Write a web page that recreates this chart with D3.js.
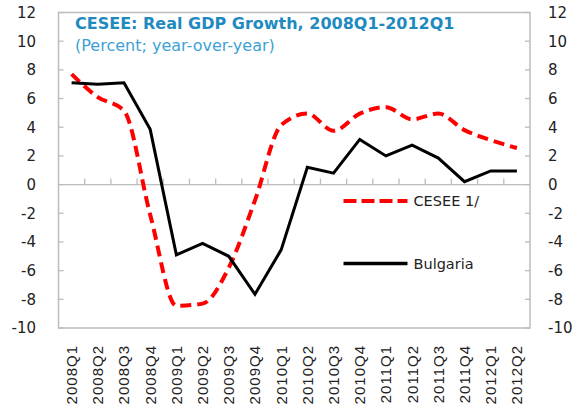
<!DOCTYPE html>
<html>
<head>
<meta charset="utf-8">
<script src="https://cdn.jsdelivr.net/npm/d3@7"></script>
<style>
  body { margin: 0; background: #fff; }
  svg { display: block; }
</style>
</head>
<body>
<div id="chart"></div>
<script>
// quarters on the x axis
var quarters = ["2008Q1", "2008Q2", "2008Q3", "2008Q4", "2009Q1", "2009Q2", "2009Q3", "2009Q4",
    "2010Q1", "2010Q2", "2010Q3", "2010Q4", "2011Q1", "2011Q2", "2011Q3", "2011Q4", "2012Q1", "2012Q2"];

// real GDP growth, percent y/y
var cesee = [7.7, 6.1, 5.15, -2.1, -8.45, -8.3, -5.8, -1.1,
    4.15, 4.95, 3.75, 4.95, 5.4, 4.55, 4.95, 3.8, 3.1, 2.55];
var bulgaria = [7.1, 7.0, 7.1, 3.85, -4.9, -4.1, -5.0, -7.65,
    -4.55, 1.2, 0.8, 3.15, 2.0, 2.75, 1.85, 0.2, 0.95, 0.95];

var yTicks = [12, 10, 8, 6, 4, 2, 0, -2, -4, -6, -8, -10];

// set the dimensions and margins of the graph
var W = 581, H = 412;
var margin = {top: 12.5, right: 51, bottom: 84, left: 58.5},
    width = W - margin.left - margin.right,
    height = H - margin.top - margin.bottom;

var x = d3.scaleBand().domain(quarters).range([0, width]).padding(0);
var y = d3.scaleLinear().domain([-10, 12]).range([height, 0]);

var svg = d3.select("#chart").append("svg")
    .attr("width", W)
    .attr("height", H);

var g = svg.append("g")
    .attr("transform", "translate(" + margin.left + "," + margin.top + ")");

var grey = "#bdbdbd";
var textCol = "#222";

// plot frame
g.append("rect")
    .attr("width", width)
    .attr("height", height)
    .attr("fill", "none")
    .attr("stroke", grey)
    .attr("stroke-width", 1.5);

// y ticks pointing inward on both sides
g.selectAll(".ytl").data(yTicks).enter().append("line")
    .attr("x1", 0).attr("x2", 5)
    .attr("y1", d => y(d)).attr("y2", d => y(d))
    .attr("stroke", grey).attr("stroke-width", 1.3);
g.selectAll(".ytr").data(yTicks).enter().append("line")
    .attr("x1", width - 5).attr("x2", width)
    .attr("y1", d => y(d)).attr("y2", d => y(d))
    .attr("stroke", grey).attr("stroke-width", 1.3);

// y labels, left and right
g.selectAll(".yl").data(yTicks).enter().append("text")
    .attr("x", -22.5)
    .attr("y", d => y(d))
    .attr("dy", "0.36em")
    .attr("text-anchor", "end")
    .attr("font-family", "DejaVu Sans, sans-serif")
    .attr("font-size", 15)
    .attr("fill", textCol)
    .text(d => d);
g.selectAll(".yr").data(yTicks).enter().append("text")
    .attr("x", width + 18)
    .attr("y", d => y(d))
    .attr("dy", "0.36em")
    .attr("text-anchor", "start")
    .attr("font-family", "DejaVu Sans, sans-serif")
    .attr("font-size", 15)
    .attr("fill", textCol)
    .text(d => d);

// zero line with category boundary ticks
g.append("line")
    .attr("x1", 0).attr("x2", width)
    .attr("y1", y(0)).attr("y2", y(0))
    .attr("stroke", grey).attr("stroke-width", 1.3);
g.selectAll(".xt").data(quarters.slice(1)).enter().append("line")
    .attr("x1", d => x(d)).attr("x2", d => x(d))
    .attr("y1", y(0)).attr("y2", y(0) - 6)
    .attr("stroke", grey).attr("stroke-width", 1.3);

// x labels, rotated
g.selectAll(".xl").data(quarters).enter().append("text")
    .attr("transform", d => "translate(" + (x(d) + x.bandwidth() / 2) + "," + (height + 17) + ") rotate(-90)")
    .attr("dy", "0.36em")
    .attr("text-anchor", "end")
    .attr("font-family", "Liberation Sans, Arial, sans-serif")
    .attr("font-size", 15)
    .attr("letter-spacing", 1)
    .attr("fill", textCol)
    .text(d => d);

var cx = d => x(d) + x.bandwidth() / 2;

// CESEE smoothed dashed line
var lineC = d3.line()
    .x((d, i) => cx(quarters[i]))
    .y(d => y(d))
    .curve(d3.curveMonotoneX);
g.append("path")
    .datum(cesee)
    .attr("d", lineC)
    .attr("fill", "none")
    .attr("stroke", "#ff0000")
    .attr("stroke-width", 4)
    .attr("stroke-dasharray", "11,6");

// Bulgaria solid line
var lineB = d3.line()
    .x((d, i) => cx(quarters[i]))
    .y(d => y(d));
g.append("path")
    .datum(bulgaria)
    .attr("d", lineB)
    .attr("fill", "none")
    .attr("stroke", "#000")
    .attr("stroke-width", 3)
    .attr("stroke-linejoin", "miter");

// legend
var legend = [
    {name: "CESEE 1/", color: "#ff0000", dash: "13,5", w: 4, yv: -1.15},
    {name: "Bulgaria", color: "#000", dash: null, w: 3.5, yv: -5.5}
];
var lg = g.selectAll(".leg").data(legend).enter().append("g");
lg.append("line")
    .attr("x1", 285).attr("x2", 349)
    .attr("y1", d => y(d.yv)).attr("y2", d => y(d.yv))
    .attr("stroke", d => d.color)
    .attr("stroke-width", d => d.w)
    .attr("stroke-dasharray", d => d.dash);
lg.append("text")
    .attr("x", 355)
    .attr("y", d => y(d.yv))
    .attr("dy", "0.36em")
    .attr("font-family", "DejaVu Sans, sans-serif")
    .attr("font-size", 14.5)
    .attr("fill", textCol)
    .text(d => d.name);

// title
svg.append("text")
    .attr("x", 75).attr("y", 28.5)
    .attr("font-family", "DejaVu Sans, sans-serif")
    .attr("font-weight", "bold")
    .attr("font-size", 16)
    .attr("fill", "#1f8ac0")
    .text("CESEE: Real GDP Growth, 2008Q1-2012Q1");
svg.append("text")
    .attr("x", 75).attr("y", 51)
    .attr("font-family", "DejaVu Sans, sans-serif")
    .attr("font-size", 16)
    .attr("fill", "#3ea2d6")
    .text("(Percent; year-over-year)");
</script>
</body>
</html>
